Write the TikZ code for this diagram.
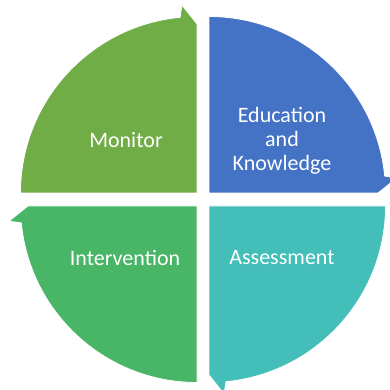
\documentclass[tikz,border=0pt]{standalone}
\usepackage{fontspec}
\setmainfont{Carlito}
\definecolor{cMonitor}{HTML}{70AD47}
\definecolor{cEdu}{HTML}{4472C4}
\definecolor{cInter}{HTML}{48B567}
\definecolor{cAssess}{HTML}{44BEB8}
\tikzset{
  wedge/.style={draw=white, line width=0.8pt, line join=miter},
  lbl/.style={text=white, font=\fontsize{22}{24}\selectfont, align=center, inner sep=0pt}
}
\begin{document}
\begin{tikzpicture}[x=1pt,y=1pt]
\useasboundingbox (0,0) rectangle (390,390);
\fill[white] (0,0) rectangle (390,390);
% Monitor (top-left)
\begin{scope}[shift={(197,197)}]
\fill[wedge, fill=cMonitor] (0,0) -- (180:176.5) arc[start angle=180, end angle=95.5, radius=176.5pt] -- (94.6:188.6) -- (90:169) -- cycle;
\end{scope}
% Education (top-right)
\begin{scope}[shift={(209,197)}]
\fill[wedge, fill=cEdu] (0,0) -- (90:176.5) arc[start angle=90, end angle=5.5, radius=176.5pt] -- (4.6:188.6) -- (0:169) -- cycle;
\end{scope}
% Intervention (bottom-left)
\begin{scope}[shift={(197,184)}]
\fill[wedge, fill=cInter] (0,0) -- (270:176.5) arc[start angle=270, end angle=185.5, radius=176.5pt] -- (184.6:188.6) -- (180:169) -- cycle;
\end{scope}
% Assessment (bottom-right)
\begin{scope}[shift={(209,184)}]
\fill[wedge, fill=cAssess] (0,0) -- (0:176.5) arc[start angle=0, end angle=-84.5, radius=176.5pt] -- (-85.4:188.6) -- (-90:169) -- cycle;
\end{scope}
\node[lbl] (monitor) at (126,250) {Monitor};
\node[lbl] (edu) at (282,249) {Education\\and\\Knowledge};
\node[lbl] (inter) at (125,132) {Intervention};
\node[lbl] (assess) at (282,132) {Assessment};
\end{tikzpicture}
\end{document}
